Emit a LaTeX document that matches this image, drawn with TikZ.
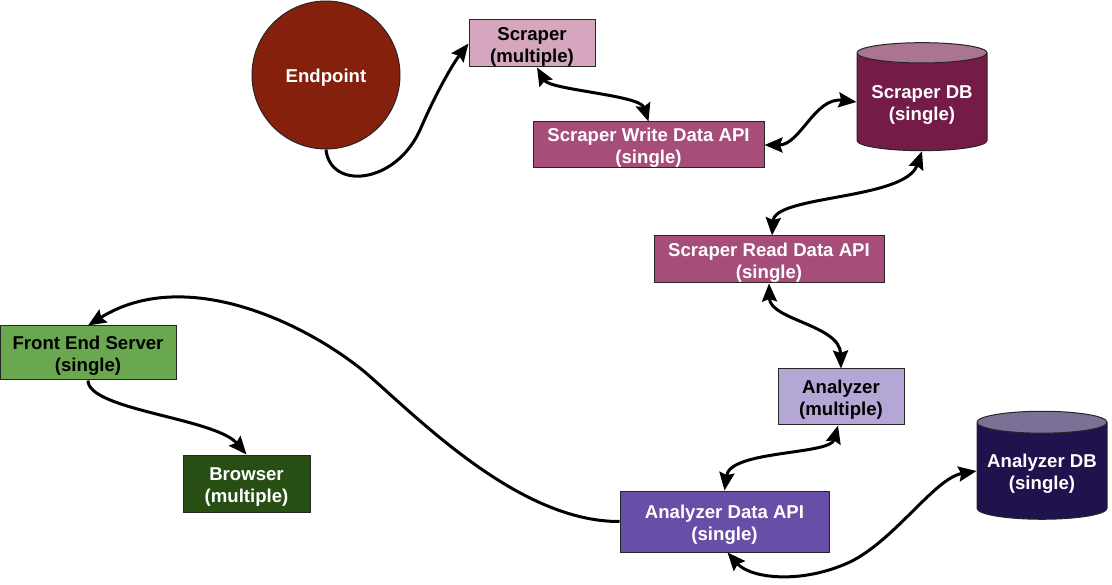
\documentclass[tikz,border=0pt]{standalone}
\usepackage{fontspec}
\setmainfont{Liberation Sans}
\usetikzlibrary{shapes.geometric,arrows.meta}

\definecolor{endpointred}{HTML}{85200C}
\definecolor{scraperpink}{HTML}{D5A6BD}
\definecolor{scraperapi}{HTML}{A64D79}
\definecolor{scraperdbbody}{HTML}{741B47}
\definecolor{scraperdbtop}{HTML}{AA7591}
\definecolor{analyzerlilac}{HTML}{B4A7D6}
\definecolor{analyzerapi}{HTML}{674EA7}
\definecolor{analyzerdbbody}{HTML}{20124D}
\definecolor{analyzerdbtop}{HTML}{7B7096}
\definecolor{frontgreen}{HTML}{6AA84F}
\definecolor{browsergreen}{HTML}{274E13}

\begin{document}
\begin{tikzpicture}[x=1pt,y=-1pt,
    every node/.style={font=\fontsize{18.6}{22}\selectfont\bfseries, align=center, inner sep=0pt,
                       text height=41.5pt, text depth=3.9pt},
    box/.style={rectangle, draw=black!85, line width=1pt},
    store/.style={cylinder, shape border rotate=90, aspect=0.2, draw=black!85, line width=1pt,
                  minimum width=130pt, minimum height=108pt, cylinder uses custom fill, text=white},
    head/.tip={Stealth[length=18pt,width=15pt,inset=2.5pt]},
    link/.style={line width=3pt},
    oneway/.style={link, -head},
    twoway/.style={link, head-head}]

    \useasboundingbox (0,0) rectangle (1112,585);

    % Nodes
    \node (endpoint) [circle, draw=black!85, line width=1pt, fill=endpointred, text=white,
                      minimum size=148pt, text height=19pt] at (326,75) {Endpoint};
    \node (scraper) [box, fill=scraperpink, minimum width=126pt, minimum height=47pt]
                    at (532,43.5) {Scraper\\(multiple)};
    \node (writeapi) [box, fill=scraperapi, text=white, minimum width=231pt, minimum height=46pt]
                     at (648.5,145) {Scraper Write Data API\\(single)};
    \node (scraperdb) [store, cylinder body fill=scraperdbbody, cylinder end fill=scraperdbtop]
                      at (922,102) {Scraper DB\\(single)};
    \node (readapi) [box, fill=scraperapi, text=white, minimum width=230pt, minimum height=47pt]
                    at (769,259.5) {Scraper Read Data API\\(single)};
    \node (analyzer) [box, fill=analyzerlilac, minimum width=126pt, minimum height=56pt]
                     at (841,397) {Analyzer\\(multiple)};
    \node (analyzerdb) [store, cylinder body fill=analyzerdbbody, cylinder end fill=analyzerdbtop]
                       at (1042,471) {Analyzer DB\\(single)};
    \node (analyzerapi) [box, fill=analyzerapi, text=white, minimum width=209pt, minimum height=61pt]
                        at (724.5,521.5) {Analyzer Data API\\(single)};
    \node (frontend) [box, fill=frontgreen, minimum width=176pt, minimum height=54pt]
                     at (88,353) {Front End Server\\(single)};
    \node (browser) [box, fill=browsergreen, text=white, minimum width=127pt, minimum height=57pt]
                    at (246.5,483.5) {Browser\\(multiple)};

    % Arrows
    \draw[oneway] (endpoint.south) .. controls (330,190) and (395,185) .. (420,130)
                  .. controls (435,95) and (452,65) .. (scraper.west);
    \draw[twoway] ([xshift=5pt]scraper.south) .. controls (550,90) and (640,95) .. (writeapi.north);
    \draw[twoway] (writeapi.east) .. controls (800,145) and (815,97) .. (scraperdb.west);
    \draw[twoway] (scraperdb.south) .. controls (905,200) and (775,195) .. ([xshift=3pt]readapi.north);
    \draw[twoway] (readapi.south) .. controls (770,320) and (840,325) .. (analyzer.north);
    \draw[twoway] ([xshift=-3pt]analyzer.south) .. controls (830,455) and (730,450) .. (analyzerapi.north);
    \draw[twoway] ([xshift=3pt]analyzerapi.south) .. controls (750,578) and (800,585) .. (850,562)
                  .. controls (895,540) and (935,478) .. (analyzerdb.west);
    \draw[oneway] (analyzerapi.west) .. controls (520,522) and (420,420) .. (366,373)
                  .. controls (306,323) and (185,265) .. (frontend.north);
    \draw[oneway] (frontend.south) .. controls (88,410) and (215,418) .. (browser.north);

\end{tikzpicture}
\end{document}
